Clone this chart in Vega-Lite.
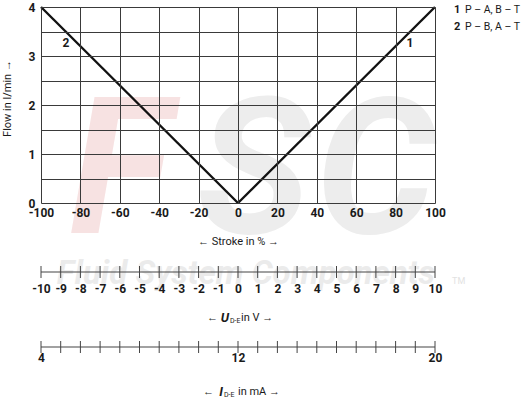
{
  "$schema": "https://vega.github.io/schema/vega-lite/v6.json",
  "background": "white",
  "padding": {"left": 1, "top": 1, "right": 0, "bottom": 0},
  "config": {
    "font": "Roboto",
    "view": {"stroke": null},
    "axis": {"labelColor": "#1a1a1a", "titleColor": "#1a1a1a", "labelFont": "Roboto", "titleFont": "Roboto", "labelOverlap": false},
    "text": {"color": "#1a1a1a", "font": "Roboto"}
  },
  "bounds": "flush",
  "spacing": 63,
  "datasets": {
    "flow": [
      {"series": "1", "stroke": 0, "flow": 0},
      {"series": "1", "stroke": 100, "flow": 4},
      {"series": "2", "stroke": -100, "flow": 4},
      {"series": "2", "stroke": 0, "flow": 0}
    ],
    "legend": [
      {"num": "1", "desc": "P – A, B – T"},
      {"num": "2", "desc": "P – B, A – T"}
    ],
    "voltage": [
      {"u": -10}, {"u": -9}, {"u": -8}, {"u": -7}, {"u": -6}, {"u": -5}, {"u": -4},
      {"u": -3}, {"u": -2}, {"u": -1}, {"u": 0}, {"u": 1}, {"u": 2}, {"u": 3},
      {"u": 4}, {"u": 5}, {"u": 6}, {"u": 7}, {"u": 8}, {"u": 9}, {"u": 10}
    ],
    "current": [
      {"i": 4}, {"i": 4.8}, {"i": 5.6}, {"i": 6.4}, {"i": 7.2}, {"i": 8}, {"i": 8.8},
      {"i": 9.6}, {"i": 10.4}, {"i": 11.2}, {"i": 12}, {"i": 12.8}, {"i": 13.6}, {"i": 14.4},
      {"i": 15.2}, {"i": 16}, {"i": 16.8}, {"i": 17.6}, {"i": 18.4}, {"i": 19.2}, {"i": 20}
    ]
  },
  "vconcat": [
    {
      "width": 394,
      "height": 196,
      "data": {"name": "flow"},
      "resolve": {"axis": {"x": "independent", "y": "independent"}},
      "layer": [
        {
          "transform": [{"filter": "datum.series == '1' && datum.flow == 4"}],
          "mark": {"type": "text", "text": "F", "fontSize": 190, "fontWeight": "bold", "fontStyle": "italic", "color": "#f7e2e2", "baseline": "middle", "align": "center"},
          "encoding": {"x": {"datum": -60, "type": "quantitative", "axis": null}, "y": {"datum": 0.55, "type": "quantitative", "axis": null}}
        },
        {
          "transform": [{"filter": "datum.series == '1' && datum.flow == 4"}],
          "mark": {"type": "text", "text": "S", "fontSize": 190, "fontWeight": "bold", "fontStyle": "italic", "color": "#ededed", "baseline": "middle", "align": "center"},
          "encoding": {"x": {"datum": 8, "type": "quantitative", "axis": null}, "y": {"datum": 0.55, "type": "quantitative", "axis": null}}
        },
        {
          "transform": [{"filter": "datum.series == '1' && datum.flow == 4"}],
          "mark": {"type": "text", "text": "C", "fontSize": 190, "fontWeight": "bold", "fontStyle": "italic", "color": "#ededed", "baseline": "middle", "align": "center"},
          "encoding": {"x": {"datum": 70, "type": "quantitative", "axis": null}, "y": {"datum": 0.55, "type": "quantitative", "axis": null}}
        },
        {
          "mark": {"type": "line", "color": "#111", "strokeWidth": 2.4},
          "encoding": {
            "x": {
              "field": "stroke", "type": "quantitative",
              "scale": {"domain": [-100, 100], "nice": false},
              "axis": {
                "values": [-100, -80, -60, -40, -20, 0, 20, 40, 60, 80, 100],
                "labelExpr": "'' + datum.value",
                "grid": true, "gridColor": "#3a3a3a", "gridWidth": 1, "gridOpacity": 1,
                "ticks": false, "domain": false, "labelFlush": false, "zindex": 1,
                "labelFontWeight": "bold", "labelFontSize": 12, "labelPadding": 4,
                "title": "← Stroke in % →", "titleFontWeight": "normal", "titleFontSize": 11, "titlePadding": 17
              }
            },
            "y": {
              "field": "flow", "type": "quantitative",
              "scale": {"domain": [0, 4], "nice": false},
              "axis": {
                "values": [0, 0.5, 1, 1.5, 2, 2.5, 3, 3.5, 4],
                "labelExpr": "datum.value % 1 === 0 ? '' + datum.value : ''",
                "grid": true, "gridColor": "#3a3a3a", "gridWidth": 1, "gridOpacity": 1,
                "ticks": false, "domain": false, "labelFlush": false, "zindex": 1,
                "labelFontWeight": "bold", "labelFontSize": 12, "labelPadding": 6,
                "title": "Flow in l/min →", "titleFontWeight": "normal", "titleFontSize": 11, "titlePadding": 16, "titleY": 91
              }
            },
            "detail": {"field": "series"},
            "order": {"field": "stroke"}
          }
        },
        {
          "transform": [{"filter": "datum.series == '2' && datum.flow == 4"}],
          "mark": {"type": "text", "fontWeight": "bold", "fontSize": 12, "baseline": "middle", "align": "center"},
          "encoding": {"x": {"datum": -87.3, "type": "quantitative", "axis": null}, "y": {"datum": 3.27, "type": "quantitative", "axis": null}, "text": {"field": "series"}}
        },
        {
          "transform": [{"filter": "datum.series == '1' && datum.flow == 4"}],
          "mark": {"type": "text", "fontWeight": "bold", "fontSize": 12, "baseline": "middle", "align": "center"},
          "encoding": {"x": {"datum": 87.3, "type": "quantitative", "axis": null}, "y": {"datum": 3.27, "type": "quantitative", "axis": null}, "text": {"field": "series"}}
        },
        {
          "data": {"name": "legend"},
          "transform": [{"filter": "datum.num == '1'"}],
          "mark": {"type": "text", "align": "left", "baseline": "middle", "dx": 19, "fontWeight": "bold", "fontSize": 11},
          "encoding": {"x": {"datum": 100, "type": "quantitative", "axis": null}, "y": {"datum": 3.94, "type": "quantitative", "axis": null}, "text": {"field": "num"}}
        },
        {
          "data": {"name": "legend"},
          "transform": [{"filter": "datum.num == '1'"}],
          "mark": {"type": "text", "align": "left", "baseline": "middle", "dx": 30, "fontSize": 10.5},
          "encoding": {"x": {"datum": 100, "type": "quantitative", "axis": null}, "y": {"datum": 3.94, "type": "quantitative", "axis": null}, "text": {"field": "desc"}}
        },
        {
          "data": {"name": "legend"},
          "transform": [{"filter": "datum.num == '2'"}],
          "mark": {"type": "text", "align": "left", "baseline": "middle", "dx": 19, "fontWeight": "bold", "fontSize": 11},
          "encoding": {"x": {"datum": 100, "type": "quantitative", "axis": null}, "y": {"datum": 3.59, "type": "quantitative", "axis": null}, "text": {"field": "num"}}
        },
        {
          "data": {"name": "legend"},
          "transform": [{"filter": "datum.num == '2'"}],
          "mark": {"type": "text", "align": "left", "baseline": "middle", "dx": 30, "fontSize": 10.5},
          "encoding": {"x": {"datum": 100, "type": "quantitative", "axis": null}, "y": {"datum": 3.59, "type": "quantitative", "axis": null}, "text": {"field": "desc"}}
        }
      ]
    },
    {
      "width": 394,
      "height": 12,
      "data": {"name": "voltage"},
      "resolve": {"axis": {"x": "independent", "y": "independent"}},
      "layer": [
        {
          "transform": [{"filter": "datum.u == 0"}],
          "mark": {"type": "text", "text": "Fluid System Components", "fontSize": 33, "fontWeight": "bold", "fontStyle": "italic", "color": "#ebebeb", "baseline": "middle", "align": "center"},
          "encoding": {"x": {"datum": 0.4, "type": "quantitative", "axis": null}, "y": {"datum": -0.3, "type": "quantitative", "axis": null}}
        },
        {
          "transform": [{"filter": "datum.u == 0"}],
          "mark": {"type": "text", "text": "TM", "fontSize": 9, "color": "#e2e2e2", "baseline": "middle", "align": "center"},
          "encoding": {"x": {"datum": 11.2, "type": "quantitative", "axis": null}, "y": {"datum": -1.5, "type": "quantitative", "axis": null}}
        },
        {
          "mark": {"type": "rule", "color": "#444", "strokeWidth": 1},
          "encoding": {
            "x": {
              "field": "u", "type": "quantitative",
              "scale": {"domain": [-10, 10], "nice": false},
              "axis": {
                "values": [-10, -9, -8, -7, -6, -5, -4, -3, -2, -1, 0, 1, 2, 3, 4, 5, 6, 7, 8, 9, 10],
                "labelExpr": "'' + datum.value",
                "domain": false, "ticks": false, "grid": false, "labelFlush": false, "zindex": 1,
                "labelFontWeight": "bold", "labelFontSize": 12, "labelPadding": 5, "title": null
              }
            },
            "y": {"datum": -1, "type": "quantitative", "scale": {"domain": [-1, 1], "nice": false}, "axis": null},
            "y2": {"datum": 1}
          }
        },
        {
          "transform": [{"filter": "datum.u == 0"}],
          "mark": {"type": "rule", "color": "#444", "strokeWidth": 1.2},
          "encoding": {"x": {"datum": -10, "type": "quantitative", "axis": null}, "x2": {"datum": 10}, "y": {"datum": 0, "type": "quantitative", "axis": null}}
        },
        {
          "transform": [{"filter": "datum.u == 0"}],
          "mark": {"type": "text", "text": "←", "fontSize": 11, "align": "right", "baseline": "middle", "dx": -20},
          "encoding": {"x": {"datum": 0, "type": "quantitative", "axis": null}, "y": {"datum": -7.7, "type": "quantitative", "axis": null}}
        },
        {
          "transform": [{"filter": "datum.u == 0"}],
          "mark": {"type": "text", "text": "U", "fontSize": 13, "fontWeight": "bold", "fontStyle": "italic", "align": "right", "baseline": "middle", "dx": -9},
          "encoding": {"x": {"datum": 0, "type": "quantitative", "axis": null}, "y": {"datum": -7.7, "type": "quantitative", "axis": null}}
        },
        {
          "transform": [{"filter": "datum.u == 0"}],
          "mark": {"type": "text", "text": "D-E", "fontSize": 7, "align": "left", "baseline": "middle", "dx": -8, "dy": 3},
          "encoding": {"x": {"datum": 0, "type": "quantitative", "axis": null}, "y": {"datum": -7.7, "type": "quantitative", "axis": null}}
        },
        {
          "transform": [{"filter": "datum.u == 0"}],
          "mark": {"type": "text", "text": "in V →", "fontSize": 11, "align": "left", "baseline": "middle", "dx": 3},
          "encoding": {"x": {"datum": 0, "type": "quantitative", "axis": null}, "y": {"datum": -7.7, "type": "quantitative", "axis": null}}
        }
      ]
    },
    {
      "width": 394,
      "height": 12,
      "data": {"name": "current"},
      "resolve": {"axis": {"x": "independent", "y": "independent"}},
      "layer": [
        {
          "mark": {"type": "rule", "color": "#444", "strokeWidth": 1},
          "encoding": {
            "x": {
              "field": "i", "type": "quantitative",
              "scale": {"domain": [4, 20], "nice": false},
              "axis": {
                "values": [4, 12, 20],
                "labelExpr": "'' + datum.value",
                "domain": false, "ticks": false, "grid": false, "labelFlush": false, "zindex": 1,
                "labelFontWeight": "bold", "labelFontSize": 12, "labelPadding": -1, "title": null
              }
            },
            "y": {"datum": -1, "type": "quantitative", "scale": {"domain": [-1, 1], "nice": false}, "axis": null},
            "y2": {"datum": 1}
          }
        },
        {
          "transform": [{"filter": "datum.i == 12"}],
          "mark": {"type": "rule", "color": "#444", "strokeWidth": 1.2},
          "encoding": {"x": {"datum": 4, "type": "quantitative", "axis": null}, "x2": {"datum": 20}, "y": {"datum": 0, "type": "quantitative", "axis": null}}
        },
        {
          "transform": [{"filter": "datum.i == 12"}],
          "mark": {"type": "text", "text": "←", "fontSize": 11, "align": "right", "baseline": "middle", "dx": -24},
          "encoding": {"x": {"datum": 12, "type": "quantitative", "axis": null}, "y": {"datum": -7.5, "type": "quantitative", "axis": null}}
        },
        {
          "transform": [{"filter": "datum.i == 12"}],
          "mark": {"type": "text", "text": "I", "fontSize": 13, "fontWeight": "bold", "fontStyle": "italic", "align": "right", "baseline": "middle", "dx": -15},
          "encoding": {"x": {"datum": 12, "type": "quantitative", "axis": null}, "y": {"datum": -7.5, "type": "quantitative", "axis": null}}
        },
        {
          "transform": [{"filter": "datum.i == 12"}],
          "mark": {"type": "text", "text": "D-E", "fontSize": 7, "align": "left", "baseline": "middle", "dx": -14, "dy": 3},
          "encoding": {"x": {"datum": 12, "type": "quantitative", "axis": null}, "y": {"datum": -7.5, "type": "quantitative", "axis": null}}
        },
        {
          "transform": [{"filter": "datum.i == 12"}],
          "mark": {"type": "text", "text": "in mA →", "fontSize": 11, "align": "left", "baseline": "middle", "dx": 0},
          "encoding": {"x": {"datum": 12, "type": "quantitative", "axis": null}, "y": {"datum": -7.5, "type": "quantitative", "axis": null}}
        }
      ]
    }
  ]
}
